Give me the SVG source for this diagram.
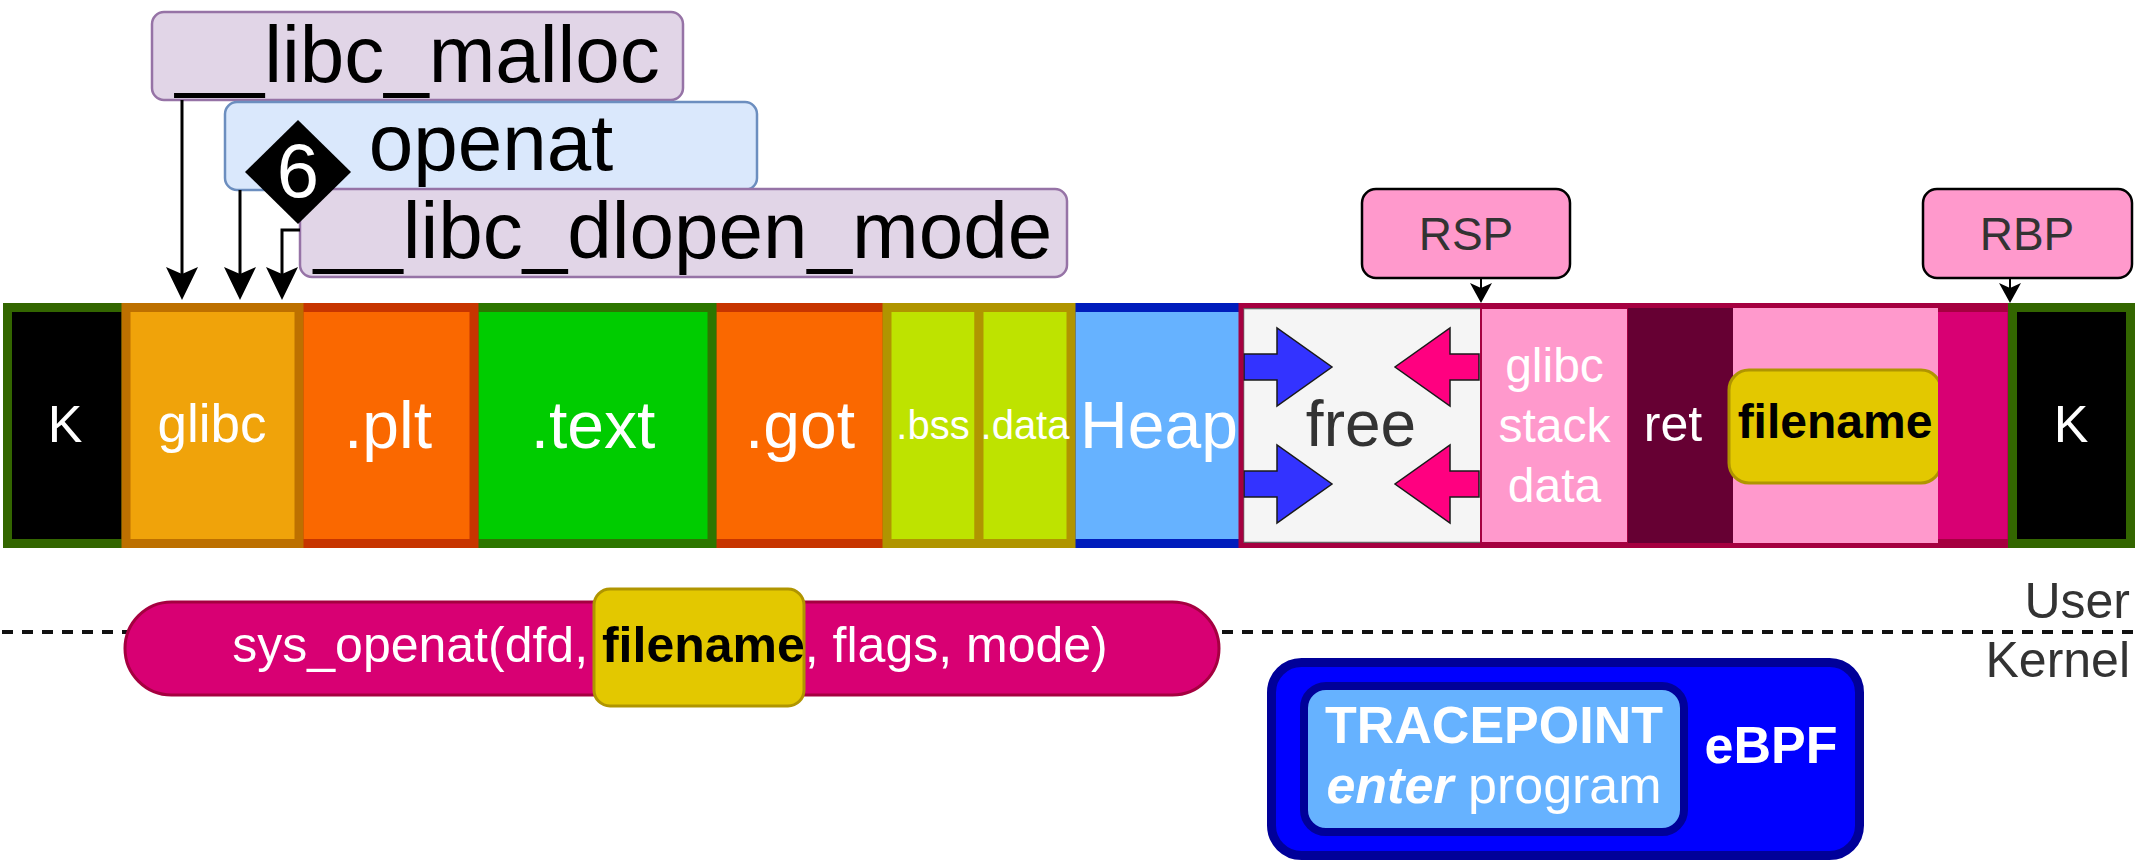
<svg xmlns="http://www.w3.org/2000/svg" width="2151" height="865" viewBox="0 0 2151 865">
  <defs>
    <style>
      text { font-family: "Liberation Sans", Arial, Helvetica, sans-serif; }
      .fn { fill: #e1d5e7; stroke: #9673a6; stroke-width: 2.5; }
      .fn-sys { fill: #dae8fc; stroke: #6c8ebf; stroke-width: 2.5; }
      .big { font-size: 80px; fill: #000; text-anchor: middle; }
      .seg { stroke-width: 9; }
      .lbl { fill: #fff; text-anchor: middle; }
      .conn { fill: none; stroke: #000; stroke-width: 3; }
      .ptr { fill: none; stroke: #000; stroke-width: 2; }
      .reg { fill: #ff99cc; stroke: #000; stroke-width: 2.5; }
      .regtxt { font-size: 46px; fill: #333; text-anchor: middle; }
      .grow-up { fill: #3333ff; stroke: #1a1a1a; stroke-width: 1.5; }
      .grow-down { fill: #ff0080; stroke: #1a1a1a; stroke-width: 1.5; }
      .yellow { fill: #e3c800; stroke: #b09500; stroke-width: 3; }
      .side { font-size: 50px; fill: #333; text-anchor: end; }
    </style>
    <marker id="head" markerUnits="userSpaceOnUse" markerWidth="40" markerHeight="40" viewBox="-2 -20 40 40" refX="26" refY="0" orient="auto">
      <path d="M0,-16 L33,0 L0,16 L7,0 Z" fill="#000"/>
    </marker>
    <marker id="head-sm" markerUnits="userSpaceOnUse" markerWidth="30" markerHeight="30" viewBox="-2 -15 30 30" refX="16" refY="0" orient="auto">
      <path d="M0,-11 L20,0 L0,11 L5,0 Z" fill="#000"/>
    </marker>
  </defs>

  <rect width="2151" height="865" fill="#fff"/>

  <!-- user / kernel boundary -->
  <g id="boundary">
    <line x1="2" y1="632" x2="2141" y2="632" stroke="#111" stroke-width="4" stroke-dasharray="11 9"/>
    <text class="side" x="2130" y="618">User</text>
    <text class="side" x="2130" y="677">Kernel</text>
  </g>

  <!-- process address space, left to right -->
  <g id="seg-k-low">
    <rect class="seg" x="7.5" y="307.5" width="118.5" height="236" fill="#000" stroke="#336600"/>
    <text class="lbl" x="65" y="442" font-size="52">K</text>
  </g>
  <g id="seg-got">
    <rect class="seg" x="712" y="307.5" width="175" height="236" fill="#fa6800" stroke="#c73500"/>
    <text class="lbl" x="800" y="448" font-size="66">.got</text>
  </g>
  <g id="seg-heap">
    <rect class="seg" x="1071" y="307.5" width="174" height="236" fill="#66b2ff" stroke="#001dbc"/>
    <text class="lbl" x="1159" y="448" font-size="66">Heap</text>
  </g>
  <g id="seg-text">
    <rect class="seg" x="474" y="307.5" width="238" height="236" fill="#00cc00" stroke="#2d7600"/>
    <text class="lbl" x="593" y="448" font-size="66">.text</text>
  </g>
  <g id="seg-plt">
    <rect class="seg" x="299" y="307.5" width="175" height="236" fill="#fa6800" stroke="#c73500"/>
    <text class="lbl" x="388" y="448" font-size="66">.plt</text>
  </g>
  <g id="seg-glibc">
    <rect class="seg" x="126" y="307.5" width="173" height="236" fill="#f0a30a" stroke="#bd7000"/>
    <text class="lbl" x="212" y="442" font-size="53">glibc</text>
  </g>
  <g id="seg-bss">
    <rect class="seg" x="887" y="307.5" width="92" height="236" fill="#bee300" stroke="#b09500"/>
    <text class="lbl" x="933" y="439" font-size="40">.bss</text>
  </g>
  <g id="seg-data">
    <rect class="seg" x="979" y="307.5" width="92" height="236" fill="#bee300" stroke="#b09500"/>
    <text class="lbl" x="1025" y="439" font-size="40">.data</text>
  </g>

  <!-- stack region -->
  <g id="stack">
    <rect x="1241" y="305.5" width="769" height="240" fill="#ff99cc"/>
    <g id="free">
      <rect x="1243.5" y="308.5" width="237.5" height="234" fill="#f5f5f5" stroke="#666" stroke-width="1.5"/>
      <polygon class="grow-up" points="1244,354 1277,354 1277,328 1332,367 1277,406 1277,380 1244,380"/>
      <polygon class="grow-up" points="1244,471 1277,471 1277,445 1332,484 1277,523 1277,497 1244,497"/>
      <polygon class="grow-down" points="1479,354 1450,354 1450,328 1395,367 1450,406 1450,380 1479,380"/>
      <polygon class="grow-down" points="1479,471 1450,471 1450,445 1395,484 1450,523 1450,497 1479,497"/>
      <text x="1361" y="446" font-size="64" fill="#333" text-anchor="middle">free</text>
    </g>
    <g id="glibc-stack">
      <rect x="1481" y="308" width="147" height="235" fill="#ff99cc" stroke="#a50040" stroke-width="2"/>
      <text class="lbl" x="1554.5" y="382" font-size="48">glibc</text>
      <text class="lbl" x="1554.5" y="442" font-size="48">stack</text>
      <text class="lbl" x="1554.5" y="502" font-size="48">data</text>
    </g>
    <g id="ret">
      <rect x="1628" y="308" width="105" height="235" fill="#660033"/>
      <text class="lbl" x="1673" y="441" font-size="50">ret</text>
    </g>
    <g id="frame-filename">
      <rect class="yellow" x="1729" y="370" width="212" height="113" rx="20"/>
      <text x="1835" y="438" font-size="48" font-weight="bold" fill="#000" text-anchor="middle">filename</text>
    </g>
    <g id="saved-rbp">
      <rect x="1938" y="305" width="72" height="241" fill="#d80073"/>
      <rect x="1938" y="303" width="72" height="9" fill="#a50040"/>
      <rect x="1938" y="539" width="72" height="9" fill="#a50040"/>
    </g>
    <rect x="1241" y="305.5" width="769" height="240" fill="none" stroke="#a50040" stroke-width="5"/>
  </g>

  <g id="seg-k-high">
    <rect class="seg" x="2012.5" y="307.5" width="118" height="236" fill="#000" stroke="#336600"/>
    <text class="lbl" x="2071" y="442" font-size="52">K</text>
  </g>

  <!-- registers -->
  <g id="rsp">
    <rect class="reg" x="1362" y="189" width="208" height="89" rx="14"/>
    <text class="regtxt" x="1466" y="250">RSP</text>
  </g>
  <g id="rbp">
    <rect class="reg" x="1923" y="189" width="209" height="89" rx="14"/>
    <text class="regtxt" x="2027" y="250">RBP</text>
  </g>

  <!-- call chain -->
  <g id="libc-malloc">
    <rect class="fn" x="152" y="12" width="531" height="88" rx="12"/>
    <text class="big" x="417.5" y="82">__libc_malloc</text>
  </g>
  <g id="openat">
    <rect class="fn-sys" x="225" y="102" width="532" height="88" rx="12"/>
    <text class="big" x="491" y="170">openat</text>
  </g>
  <g id="libc-dlopen-mode">
    <rect class="fn" x="300" y="189" width="767" height="88" rx="12"/>
    <text class="big" x="683" y="258">__libc_dlopen_mode</text>
  </g>
  <g id="step-6">
    <polygon points="298,120 351,172 298,224 245,172" fill="#000"/>
    <text x="298" y="197" font-size="76" fill="#fff" text-anchor="middle">6</text>
  </g>

  <!-- syscall -->
  <g id="sys-openat">
    <rect x="125" y="602" width="1094" height="93" rx="46.5" fill="#d80073" stroke="#a50040" stroke-width="3"/>
    <rect class="yellow" x="594" y="589" width="210" height="117" rx="16"/>
    <text x="670" y="662" font-size="50" fill="#fff" text-anchor="middle" xml:space="preserve">sys_openat(dfd, <tspan font-weight="bold" fill="#000">filename</tspan>, flags, mode)</text>
  </g>

  <!-- eBPF program -->
  <g id="ebpf">
    <rect x="1271.5" y="662.5" width="588" height="193" rx="30" fill="#0000ff" stroke="#000099" stroke-width="9"/>
    <rect x="1304" y="686" width="380" height="146" rx="22" fill="#66b2ff" stroke="#000099" stroke-width="8"/>
    <text class="lbl" x="1494" y="743" font-size="52" font-weight="bold">TRACEPOINT</text>
    <text class="lbl" x="1494" y="803" font-size="52" xml:space="preserve"><tspan font-weight="bold" font-style="italic">enter</tspan> program</text>
    <text class="lbl" x="1771" y="763" font-size="52" font-weight="bold">eBPF</text>
  </g>

  <!-- connectors -->
  <g id="connectors">
    <path class="conn" d="M182,100 V293" marker-end="url(#head)"/>
    <path class="conn" d="M240,190 V293" marker-end="url(#head)"/>
    <path class="conn" d="M300,230 H282 V293" marker-end="url(#head)"/>
    <path class="ptr" d="M1481,278 V299" marker-end="url(#head-sm)"/>
    <path class="ptr" d="M2010,278 V299" marker-end="url(#head-sm)"/>
  </g>
</svg>
